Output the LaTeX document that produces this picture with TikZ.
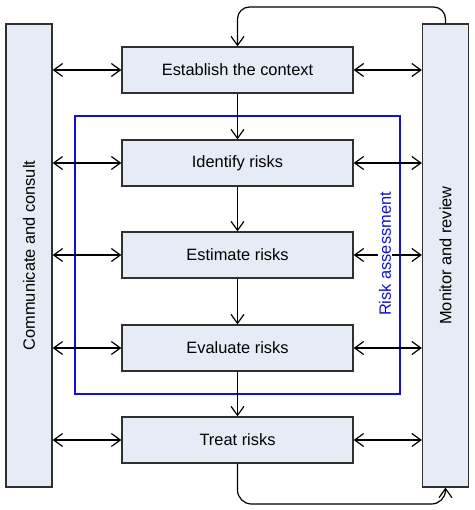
\documentclass[tikz,border=0pt]{standalone}
\usepackage{fontspec}
\setmainfont{Liberation Sans}
\usetikzlibrary{arrows.meta}
\definecolor{boxfill}{HTML}{E5ECF5}
\definecolor{boxline}{HTML}{303030}
\definecolor{rablue}{HTML}{1010D0}
\begin{document}
\begin{tikzpicture}[x=1pt,y=-1pt,
  stepbox/.style={draw=boxline, line width=1.3pt, fill=boxfill, minimum width=231pt, minimum height=46pt, inner sep=0pt, font=\fontsize{16.4}{19}\selectfont},
  barbox/.style={draw=boxline, line width=1.3pt, fill=boxfill, minimum width=463pt, minimum height=46pt, inner sep=0pt, rotate=90, font=\fontsize{16.4}{19}\selectfont},
  conn/.style={line width=1.2pt, black},
  >={Straight Barb[length=9pt,width=13pt,line width=1.2pt]}]
\useasboundingbox (0,0) rectangle (474,510);
\node[barbox] (lb) at (29,255.5) {Communicate and consult};
\node[barbox] (rb) at (445.5,255.5) {Monitor and review};
\node[stepbox] (est) at (237.5,70) {Establish the context};
\node[stepbox] (idr) at (237.5,163) {Identify risks};
\node[stepbox] (esr) at (237.5,255) {Estimate risks};
\node[stepbox] (evr) at (237.5,348) {Evaluate risks};
\node[stepbox] (trr) at (237.5,440) {Treat risks};
\node[draw=rablue, line width=1.8pt, minimum width=325pt, minimum height=278pt, inner sep=0pt] (ra) at (237.5,255) {};
\coordinate (topl) at (237.5,7);
\coordinate (botr) at (445.5,504);
\foreach \b in {est,idr,esr,evr,trr}{
  \draw[conn,<->] (lb.south |- \b.west) -- (\b.west);
  \draw[conn,<->] (\b.east) -- (rb.north |- \b.east);
}
\draw[conn,->] (est) -- (idr);
\draw[conn,->] (idr) -- (esr);
\draw[conn,->] (esr) -- (evr);
\draw[conn,->] (evr) -- (trr);
\draw[conn,->,rounded corners=12pt] (rb.east) |- (topl) -- (est.north);
\draw[conn,->,rounded corners=14pt] (trr.south) |- (botr) -- (rb.west);
\node[rotate=90, fill=white, inner sep=1pt, text=rablue, font=\fontsize{16.4}{19}\selectfont] (ral) at (385,254) {Risk assessment};
\end{tikzpicture}
\end{document}
